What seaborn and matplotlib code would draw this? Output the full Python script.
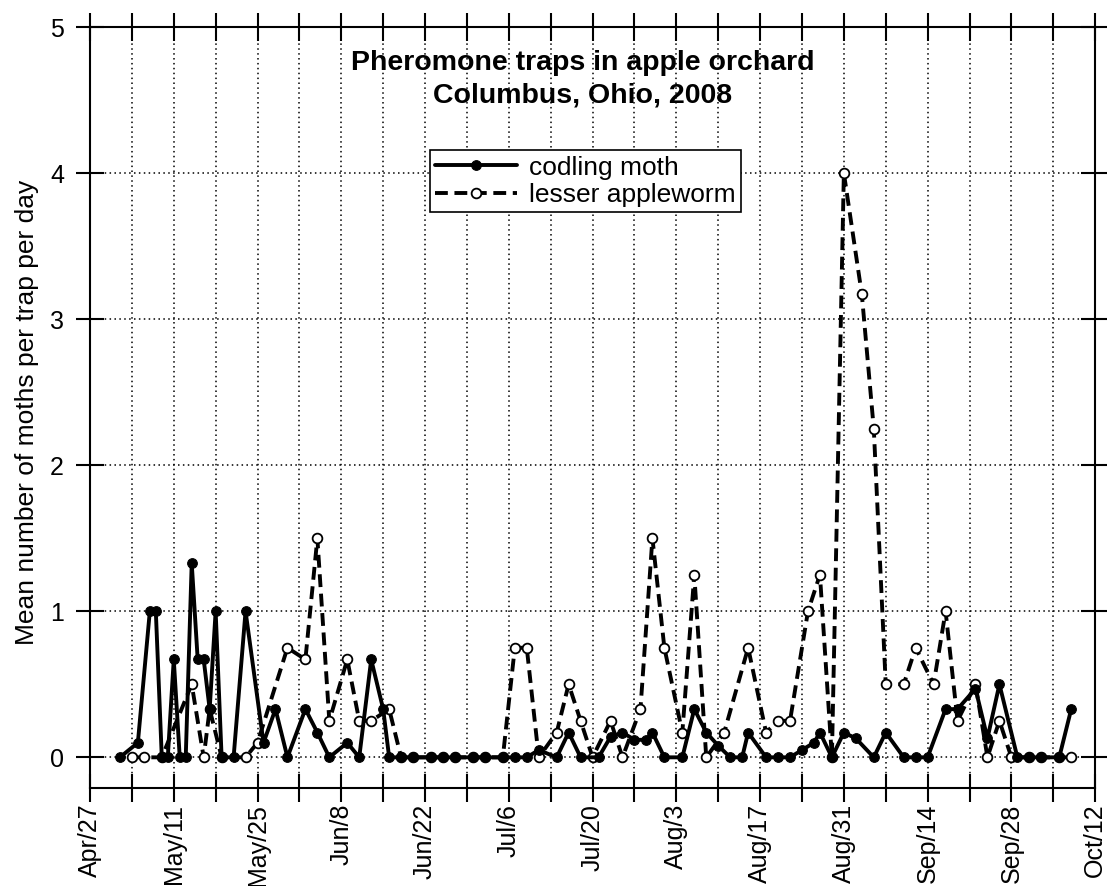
import pandas as pd
import seaborn as sns
import matplotlib.pyplot as plt

# trap counts (Columbus, Ohio, 2008)
codling_dates = [
    "2008-05-02", "2008-05-05", "2008-05-07", "2008-05-08", "2008-05-09", "2008-05-10",
    "2008-05-11", "2008-05-12", "2008-05-13", "2008-05-14", "2008-05-15", "2008-05-16",
    "2008-05-17", "2008-05-18", "2008-05-19", "2008-05-21", "2008-05-23", "2008-05-26",
    "2008-05-28", "2008-05-30", "2008-06-02", "2008-06-04", "2008-06-06", "2008-06-09",
    "2008-06-11", "2008-06-13", "2008-06-15", "2008-06-16", "2008-06-18", "2008-06-20",
    "2008-06-23", "2008-06-25", "2008-06-27", "2008-06-30", "2008-07-02", "2008-07-05",
    "2008-07-07", "2008-07-09", "2008-07-11", "2008-07-14", "2008-07-16", "2008-07-18",
    "2008-07-21", "2008-07-23", "2008-07-25", "2008-07-27", "2008-07-29", "2008-07-30",
    "2008-08-01", "2008-08-04", "2008-08-06", "2008-08-08", "2008-08-10", "2008-08-12",
    "2008-08-14", "2008-08-15", "2008-08-18", "2008-08-20", "2008-08-22", "2008-08-24",
    "2008-08-26", "2008-08-27", "2008-08-29", "2008-08-31", "2008-09-02", "2008-09-05",
    "2008-09-07", "2008-09-10", "2008-09-12", "2008-09-14", "2008-09-17", "2008-09-19",
    "2008-09-22", "2008-09-24", "2008-09-26", "2008-09-29", "2008-10-01", "2008-10-03",
    "2008-10-06", "2008-10-08",
]
codling_moth = [
    0, 0.1, 1.0, 1.0, 0, 0,
    0.67, 0, 0, 1.33, 0.67, 0.67,
    0.33, 1.0, 0, 0, 1.0, 0.1,
    0.33, 0, 0.33, 0.17, 0, 0.1,
    0, 0.67, 0.33, 0, 0, 0,
    0, 0, 0, 0, 0, 0,
    0, 0, 0.05, 0, 0.17, 0,
    0, 0.14, 0.17, 0.12, 0.12, 0.17,
    0, 0, 0.33, 0.17, 0.08, 0,
    0, 0.17, 0, 0, 0, 0.05,
    0.1, 0.17, 0, 0.17, 0.13, 0,
    0.17, 0, 0, 0, 0.33, 0.33,
    0.47, 0.13, 0.5, 0, 0, 0,
    0, 0.33,
]

lesser_dates = [
    "2008-05-04", "2008-05-06", "2008-05-09", "2008-05-14", "2008-05-16", "2008-05-17",
    "2008-05-19", "2008-05-23", "2008-05-25", "2008-05-30", "2008-06-02", "2008-06-04",
    "2008-06-06", "2008-06-09", "2008-06-11", "2008-06-13", "2008-06-16", "2008-06-18",
    "2008-06-20", "2008-06-23", "2008-06-25", "2008-06-27", "2008-06-30", "2008-07-02",
    "2008-07-05", "2008-07-07", "2008-07-09", "2008-07-11", "2008-07-14", "2008-07-16",
    "2008-07-18", "2008-07-20", "2008-07-23", "2008-07-25", "2008-07-28", "2008-07-30",
    "2008-08-01", "2008-08-04", "2008-08-06", "2008-08-08", "2008-08-11", "2008-08-15",
    "2008-08-18", "2008-08-20", "2008-08-22", "2008-08-25", "2008-08-27", "2008-08-29",
    "2008-08-31", "2008-09-03", "2008-09-05", "2008-09-07", "2008-09-10", "2008-09-12",
    "2008-09-15", "2008-09-17", "2008-09-19", "2008-09-22", "2008-09-24", "2008-09-26",
    "2008-09-28", "2008-10-01", "2008-10-03", "2008-10-06", "2008-10-08",
]
lesser_appleworm = [
    0, 0, 0, 0.5, 0, 0.33,
    0, 0, 0.1, 0.75, 0.67, 1.5,
    0.25, 0.67, 0.25, 0.25, 0.33, 0,
    0, 0, 0, 0, 0, 0,
    0, 0.75, 0.75, 0, 0.17, 0.5,
    0.25, 0, 0.25, 0, 0.33, 1.5,
    0.75, 0.17, 1.25, 0, 0.17, 0.75,
    0.17, 0.25, 0.25, 1.0, 1.25, 0,
    4.0, 3.17, 2.25, 0.5, 0.5, 0.75,
    0.5, 1.0, 0.25, 0.5, 0, 0.25,
    0, 0, 0, 0, 0,
]

codling = pd.DataFrame({"date": pd.to_datetime(codling_dates), "moths": codling_moth})
lesser = pd.DataFrame({"date": pd.to_datetime(lesser_dates), "moths": lesser_appleworm})

sns.set_style("ticks")
plt.rcParams["font.family"] = ["Liberation Sans", "DejaVu Sans"]
plt.rcParams.update({"text.color": "black", "axes.labelcolor": "black",
                     "xtick.color": "black", "ytick.color": "black",
                     "axes.edgecolor": "black"})

fig = plt.figure(figsize=(11.07, 8.86), dpi=100)
ax = fig.add_axes([0.0813, 0.1106, 0.908, 0.8589])

sns.lineplot(data=lesser, x="date", y="moths", ax=ax, color="black", linewidth=2.8,
             linestyle=(0, (3.3, 1.7)), marker="o", markersize=7,
             markerfacecolor="white", markeredgecolor="black", markeredgewidth=1.3,
             label="lesser appleworm", zorder=3)
sns.lineplot(data=codling, x="date", y="moths", ax=ax, color="black", linewidth=2.8,
             marker="o", markersize=7, markerfacecolor="black",
             markeredgecolor="black", label="codling moth", zorder=4)

start, end = pd.Timestamp("2008-04-27"), pd.Timestamp("2008-10-12")
ax.set_xlim(start, end)
ax.set_ylim(-0.21, 5)
ax.set_yticks([0, 1, 2, 3, 4, 5])

major = pd.date_range(start, end, freq="14D")
minor = pd.date_range(start + pd.Timedelta(days=7), end, freq="14D")
ax.set_xticks(major)
ax.set_xticklabels([f"{d.strftime('%b')}/{d.day}" for d in major], rotation=90)
ax.set_xticks(minor, minor=True)

ax.grid(True, which="both", axis="x", color="black", linestyle=(0, (1, 2.2)), linewidth=1.1)
ax.grid(True, which="major", axis="y", color="black", linestyle=(0, (1, 2.2)), linewidth=1.1)

ax.tick_params(which="both", direction="inout", length=19.5, width=1.5,
               top=True, right=True, labelsize=18)
ax.tick_params(axis="x", pad=1.5)
ax.tick_params(axis="y", pad=9)
for s in ax.spines.values():
    s.set_linewidth(1.5)

ax.set_xlabel("")
ax.set_ylabel("Mean number of moths per trap per day", fontsize=19)
ax.yaxis.set_label_coords(-0.051, 0.494)

ax.text(0.49, 0.931, "Pheromone traps in apple orchard\nColumbus, Ohio, 2008",
        transform=ax.transAxes, ha="center", va="center", fontsize=20.5,
        fontweight="bold", linespacing=1.32)

handles, labels = ax.get_legend_handles_labels()
leg = ax.legend(handles[::-1], labels[::-1], loc="upper left",
                bbox_to_anchor=(0.338, 0.838), fontsize=19, handlelength=3.1,
                handletextpad=0.45, labelspacing=0.12, borderpad=0.2,
                borderaxespad=0, frameon=True, fancybox=False, framealpha=1)
leg.get_frame().set_edgecolor("black")
leg.get_frame().set_linewidth(1.2)

fig.savefig("out.png", dpi=100)
